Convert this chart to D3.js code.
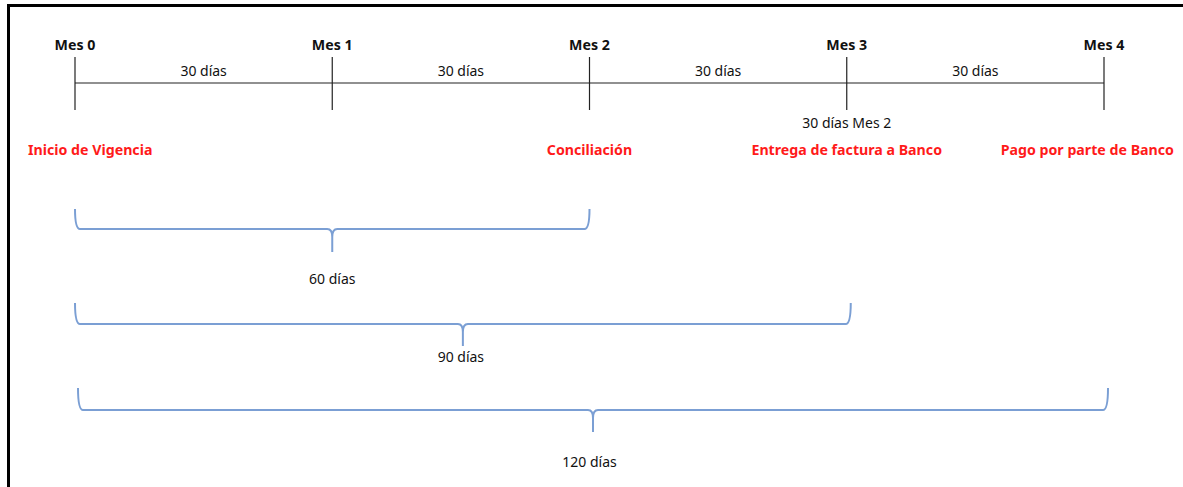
<!DOCTYPE html>
<html>
<head>
<meta charset="utf-8">
<script src="https://cdn.jsdelivr.net/npm/d3@7"></script>
<style>
  body { margin: 0; background: #fff; }
  text { font-family: "Noto Sans", sans-serif; font-size: 14px; }
  .bold { font-weight: bold; font-size: 14.2px; }
</style>
</head>
<body>
<div id="chart"></div>
<script>
// timeline data
const monthLabels = ["Mes 0", "Mes 1", "Mes 2", "Mes 3", "Mes 4"];
const monthDays = [0, 30, 60, 90, 120];
const segmentLabels = ["30 días", "30 días", "30 días", "30 días"];
const milestoneLabels = ["Inicio de Vigencia", "Conciliación", "Entrega de factura a Banco", "Pago por parte de Banco"];
const milestoneDays = [0, 60, 90, 120];
const noteLabels = ["30 días Mes 2"];
const noteDays = [90];
const braceDays = [60, 90, 120];
const braceLabels = ["60 días", "90 días", "120 días"];

const width = 1183, height = 487;

const svg = d3.select("#chart").append("svg")
    .attr("width", width)
    .attr("height", height);

// frame (right and bottom edges fall outside the picture)
svg.append("rect")
    .attr("x", 8.5).attr("y", 5.5)
    .attr("width", 1300).attr("height", 600)
    .attr("fill", "none")
    .attr("stroke", "#000")
    .attr("stroke-width", 3);

const x = d3.scaleLinear()
    .domain([0, 120])
    .range([75, 1104]);

const lineY = 83;

// main line
svg.append("line")
    .attr("x1", x(0)).attr("x2", x(120))
    .attr("y1", lineY).attr("y2", lineY)
    .attr("stroke", "#222").attr("stroke-width", 1.2);

// ticks
svg.selectAll(".tick")
    .data(monthDays)
    .enter().append("line")
    .attr("class", "tick")
    .attr("x1", d => x(d)).attr("x2", d => x(d))
    .attr("y1", 57).attr("y2", 110)
    .attr("stroke", "#222").attr("stroke-width", 1.2);

svg.selectAll(".month")
    .data(monthLabels)
    .enter().append("text")
    .attr("class", "month bold")
    .attr("x", (d, i) => x(monthDays[i]))
    .attr("y", 46)
    .attr("text-anchor", "middle")
    .attr("dominant-baseline", "middle")
    .attr("fill", "#111")
    .text(d => d);

svg.selectAll(".seg")
    .data(segmentLabels)
    .enter().append("text")
    .attr("class", "seg")
    .attr("x", (d, i) => (x(monthDays[i]) + x(monthDays[i + 1])) / 2)
    .attr("y", 72)
    .attr("text-anchor", "middle")
    .attr("dominant-baseline", "middle")
    .attr("fill", "#111")
    .text(d => d);

svg.selectAll(".note")
    .data(noteLabels)
    .enter().append("text")
    .attr("class", "note")
    .attr("x", (d, i) => x(noteDays[i]))
    .attr("y", 124)
    .attr("text-anchor", "middle")
    .attr("dominant-baseline", "middle")
    .attr("fill", "#111")
    .text(d => d);

// red milestones, kept inside the frame
const ms = svg.selectAll(".ms")
    .data(milestoneLabels)
    .enter().append("text")
    .attr("class", "ms bold")
    .attr("y", 151)
    .attr("text-anchor", "middle")
    .attr("dominant-baseline", "middle")
    .attr("fill", "#ff1a1a")
    .text(d => d);

ms.each(function (d, i) {
    const w = this.getComputedTextLength();
    let cx = x(milestoneDays[i]);
    cx = Math.max(cx, 28 + w / 2);
    cx = Math.min(cx, 1174 - w / 2);
    d3.select(this).attr("x", cx);
});

// braces
const braceTop = [209, 303, 388];
const braceMid = [229, 324, 410];
const braceTip = [252, 346, 432];
const braceText = [280, 358, 463];

function bracePath(x0, x1, yTop, yH, yTip) {
    const xm = (x0 + x1) / 2;
    const p = d3.path();
    p.moveTo(x0, yTop);
    p.quadraticCurveTo(x0, yH, x0 + 5, yH);
    p.lineTo(xm - 5, yH);
    p.quadraticCurveTo(xm, yH, xm, yH + 8);
    p.lineTo(xm, yTip);
    p.moveTo(xm, yH + 8);
    p.quadraticCurveTo(xm, yH, xm + 5, yH);
    p.lineTo(x1 - 5, yH);
    p.quadraticCurveTo(x1, yH, x1, yTop);
    return p.toString();
}

svg.selectAll(".brace")
    .data(braceDays)
    .enter().append("path")
    .attr("class", "brace")
    .attr("d", (d, i) => bracePath(x(0) + (i == 2 ? 3 : 0), x(d) + (i == 0 ? 0 : 4), braceTop[i], braceMid[i], braceTip[i]))
    .attr("fill", "none")
    .attr("stroke", "#7b9fd4")
    .attr("stroke-width", 2);

svg.selectAll(".bl")
    .data(braceLabels)
    .enter().append("text")
    .attr("class", "bl")
    .attr("x", (d, i) => (x(0) + x(braceDays[i])) / 2)
    .attr("y", (d, i) => braceText[i])
    .attr("text-anchor", "middle")
    .attr("dominant-baseline", "middle")
    .attr("fill", "#111")
    .text(d => d);
</script>
</body>
</html>
